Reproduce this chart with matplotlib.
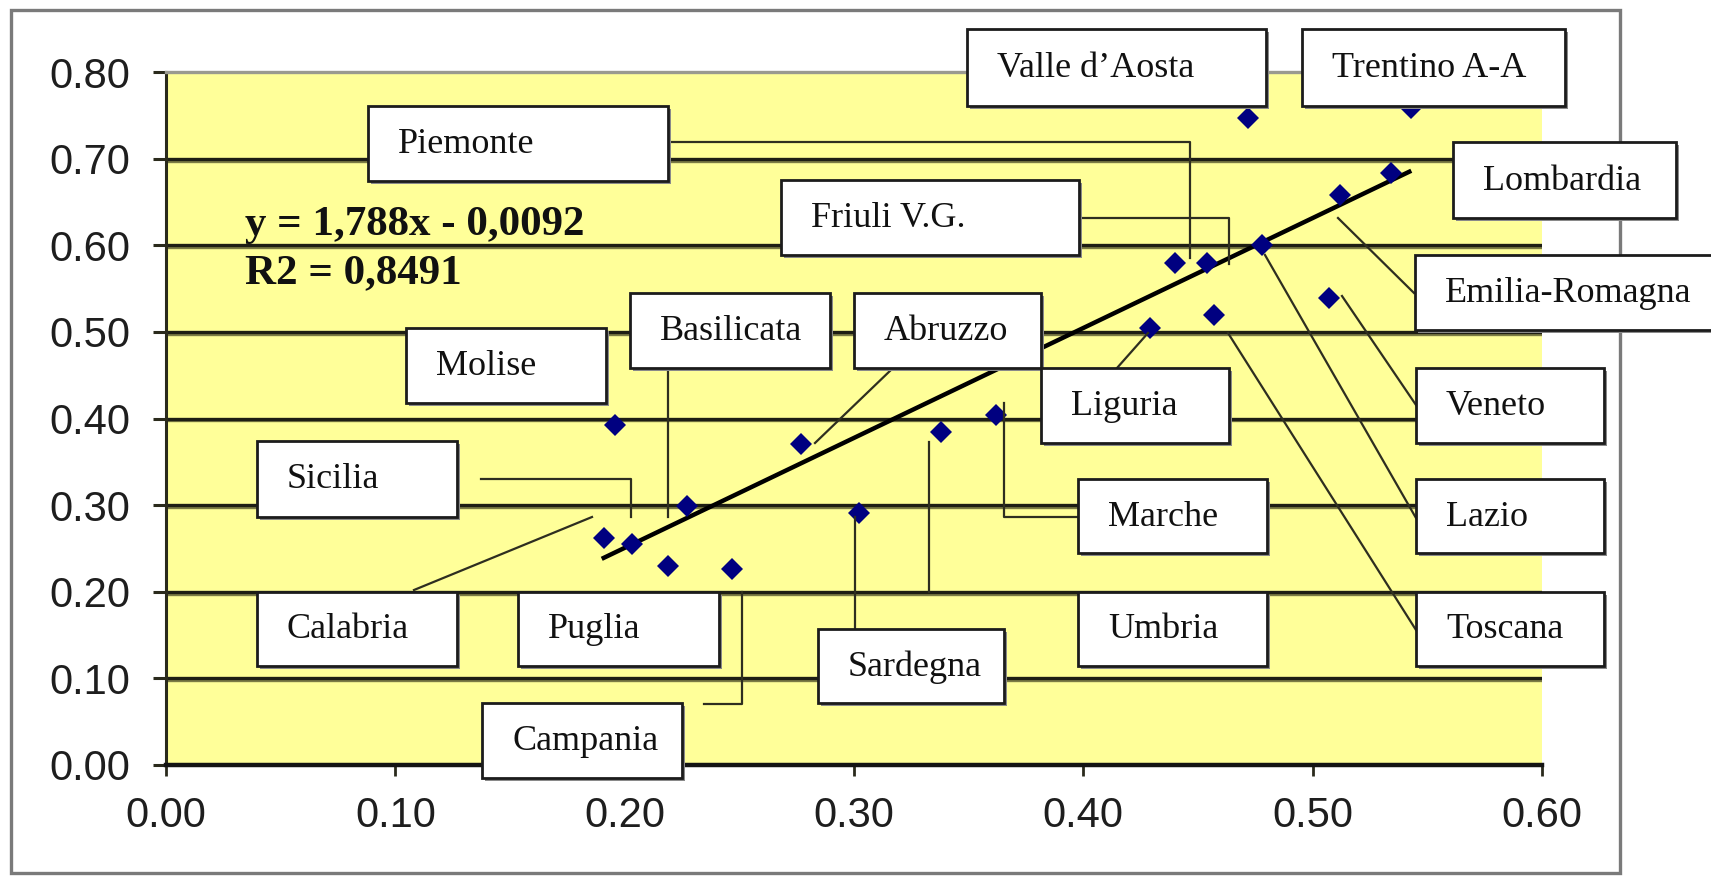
import matplotlib
matplotlib.use('Agg')
import matplotlib.pyplot as plt
import matplotlib.patheffects as pe
from matplotlib.patches import Rectangle

# data
regions = ['Molise', 'Calabria', 'Sicilia', 'Puglia', 'Campania', 'Basilicata', 'Abruzzo',
           'Sardegna', 'Umbria', 'Marche', 'Liguria', 'Toscana', 'Veneto', 'Piemonte',
           'Friuli V.G.', 'Lazio', 'Emilia-Romagna', 'Lombardia', "Valle d\u2019Aosta", 'Trentino A-A']
x_vals = [0.196, 0.191, 0.203, 0.219, 0.247, 0.227, 0.277,
          0.302, 0.338, 0.362, 0.429, 0.457, 0.507, 0.440,
          0.454, 0.478, 0.512, 0.534, 0.472, 0.543]
y_vals = [0.392, 0.262, 0.255, 0.230, 0.226, 0.299, 0.370,
          0.291, 0.384, 0.404, 0.505, 0.519, 0.539, 0.580,
          0.580, 0.600, 0.658, 0.683, 0.747, 0.758]
trend_x = [0.190, 0.543]
trend_y = [0.238, 0.686]
equation = 'y = 1,788x - 0,0092'
r2_text = 'R2 = 0,8491'
x_ticks = [0.0, 0.1, 0.2, 0.3, 0.4, 0.5, 0.6]
y_ticks = [0.0, 0.1, 0.2, 0.3, 0.4, 0.5, 0.6, 0.7, 0.8]

# label boxes in figure pixels (left, top, right, bottom)
boxes = {
    "Valle d\u2019Aosta": (967, 29, 1266, 106),
    'Trentino A-A': (1302, 29, 1565, 106),
    'Piemonte': (368, 106, 668, 181),
    'Lombardia': (1453, 142, 1676, 218),
    'Friuli V.G.': (781, 180, 1079, 255),
    'Emilia-Romagna': (1415, 255, 1712, 330),
    'Basilicata': (630, 293, 830, 368),
    'Abruzzo': (854, 293, 1041, 368),
    'Molise': (406, 328, 606, 403),
    'Liguria': (1041, 368, 1229, 443),
    'Veneto': (1416, 368, 1604, 443),
    'Sicilia': (257, 441, 457, 517),
    'Marche': (1078, 479, 1267, 553),
    'Lazio': (1416, 479, 1604, 553),
    'Calabria': (257, 592, 457, 666),
    'Puglia': (518, 592, 719, 666),
    'Umbria': (1078, 592, 1267, 666),
    'Toscana': (1416, 592, 1604, 666),
    'Sardegna': (818, 629, 1004, 703),
    'Campania': (482, 703, 682, 778),
}
leaders = [
    [(668, 142), (1190, 142), (1190, 258)],
    [(1079, 218), (1229, 218), (1229, 264)],
    [(1338, 218), (1414, 293)],
    [(1265, 255), (1416, 518)],
    [(1342, 296), (1416, 405)],
    [(1228, 333), (1416, 630)],
    [(1148, 333), (1117, 368)],
    [(1004, 403), (1004, 517), (1078, 517)],
    [(929, 442), (929, 592)],
    [(855, 517), (855, 629)],
    [(742, 592), (742, 704), (704, 704)],
    [(592, 517), (414, 590)],
    [(481, 479), (631, 479), (631, 517)],
    [(668, 368), (668, 517)],
    [(893, 368), (815, 443)],
]

W, H = 1711, 876
fig = plt.figure(figsize=(W / 100, H / 100), dpi=100)
fig.patch.set_facecolor('white')

ax = fig.add_axes([166 / W, 1 - 765 / H, (1542 - 166) / W, (765 - 72) / H])
ax.set_facecolor('#ffff99')
ax.set_xlim(0, 0.6)
ax.set_ylim(0, 0.8)

shadow = [pe.SimpleLineShadow(offset=(0, -1.4), shadow_color='#6e6e3c', alpha=0.9), pe.Normal()]
for v in y_ticks[1:-1]:
    ax.axhline(v, color='#1e1e14', lw=2.4, zorder=1, path_effects=shadow)

ax.plot(trend_x, trend_y, color='black', lw=3.2, solid_capstyle='butt', zorder=3)
ax.plot(x_vals, y_vals, linestyle='none', marker='D', markersize=11,
        color='#000080', markeredgewidth=0, zorder=4)

ax.spines['right'].set_visible(False)
ax.spines['top'].set_color('#9a9a90')
ax.spines['top'].set_linewidth(2.4)
ax.spines['left'].set_color('#2a2a1c')
ax.spines['left'].set_linewidth(2.2)
ax.spines['bottom'].set_color('#141414')
ax.spines['bottom'].set_linewidth(3.2)

ax.set_xticks(x_ticks)
ax.set_yticks(y_ticks)
ax.set_xticklabels(['%.2f' % v for v in x_ticks])
ax.set_yticklabels(['%.2f' % v for v in y_ticks])
ax.tick_params(axis='y', direction='out', length=9.5, width=2.2, color='#2a2a1c',
               pad=16, labelsize=30, labelcolor='#1e1e1e')
ax.tick_params(axis='x', direction='out', length=8, width=2.0, color='#2a2a1c',
               pad=14, labelsize=30, labelcolor='#1e1e1e')
for lab in ax.get_xticklabels() + ax.get_yticklabels():
    lab.set_fontfamily('Liberation Sans')

# overlay in pixel units for the chart frame, labels and leader lines
ov = fig.add_axes([0, 0, 1, 1])
ov.set_xlim(0, W)
ov.set_ylim(H, 0)
ov.axis('off')
ov.patch.set_visible(False)

ov.add_patch(Rectangle((11, 10), 1620 - 11, 873 - 10, fill=False,
                       edgecolor='#7a7a7a', lw=2.4, zorder=1))

for line in leaders:
    xs = [p[0] for p in line]
    ys = [p[1] for p in line]
    ov.plot(xs, ys, color='#2e2e20', lw=1.6, zorder=2)

for name, (x0, y0, x1, y1) in boxes.items():
    ov.add_patch(Rectangle((x0 + 3, y0 + 3), x1 - x0, y1 - y0, facecolor='#8a8a8a',
                           edgecolor='none', zorder=3))
    ov.add_patch(Rectangle((x0, y0), x1 - x0, y1 - y0, facecolor='white',
                           edgecolor='#1c1c1c', lw=2.0, zorder=4))
    ov.text(x0 + 30, (y0 + y1) / 2 + 1, name, fontfamily='Liberation Serif', fontsize=26,
            color='#111111', ha='left', va='center', zorder=5)

ov.text(245, 235, equation, fontfamily='Liberation Serif', fontweight='bold', fontsize=31,
        color='#111111', ha='left', va='baseline', zorder=5)
ov.text(245, 283, r2_text, fontfamily='Liberation Serif', fontweight='bold', fontsize=31,
        color='#111111', ha='left', va='baseline', zorder=5)

fig.savefig('out.png', dpi=100)
